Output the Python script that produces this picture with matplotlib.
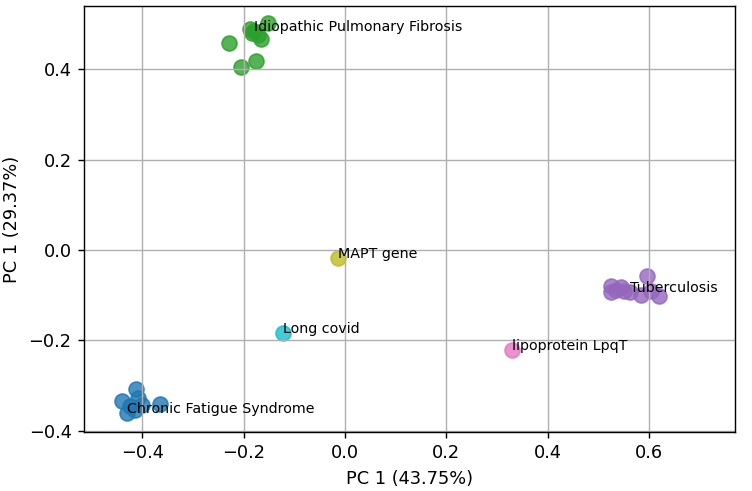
import matplotlib
matplotlib.use("Agg")
import matplotlib.pyplot as plt
import numpy as np

# PCA coordinates per cluster (first point of each cluster carries the label)
labels = ["Chronic Fatigue Syndrome", "Idiopathic Pulmonary Fibrosis", "Tuberculosis",
          "lipoprotein LpqT", "MAPT gene", "Long covid"]
colors = ["tab:blue", "tab:green", "tab:purple", "tab:pink", "tab:olive", "tab:cyan"]

cfs_x = [-0.430, -0.440, -0.412, -0.408, -0.424, -0.400, -0.365, -0.415]
cfs_y = [-0.360, -0.334, -0.308, -0.328, -0.346, -0.343, -0.340, -0.354]

ipf_x = [-0.180, -0.228, -0.205, -0.176, -0.152, -0.188, -0.165, -0.172, -0.183]
ipf_y = [0.485, 0.457, 0.405, 0.418, 0.503, 0.488, 0.468, 0.475, 0.480]

tb_x = [0.563, 0.525, 0.525, 0.545, 0.550, 0.585, 0.597, 0.605, 0.620, 0.535]
tb_y = [-0.093, -0.080, -0.092, -0.082, -0.090, -0.100, -0.058, -0.090, -0.102, -0.088]

lpq_x = [0.330]
lpq_y = [-0.221]

mapt_x = [-0.014]
mapt_y = [-0.018]

covid_x = [-0.122]
covid_y = [-0.184]

xs = [cfs_x, ipf_x, tb_x, lpq_x, mapt_x, covid_x]
ys = [cfs_y, ipf_y, tb_y, lpq_y, mapt_y, covid_y]

fig = plt.figure(figsize=(752/128, 491/128), dpi=128)
fig.subplots_adjust(left=84/752, right=735/752, top=1-6/491, bottom=1-432/491)
ax = fig.gca()

for x, y, c, lab in zip(xs, ys, colors, labels):
    ax.scatter(x, y, s=70, color=c, alpha=0.8)
    ax.text(x[0], y[0], lab, fontsize=8)

ax.set_xlim(-0.515, 0.77)
ax.set_ylim(-0.403, 0.54)
ax.grid(True)
ax.set_xlabel("PC 1 (43.75%)")
ax.set_ylabel("PC 1 (29.37%)")

fig.savefig("out.png", dpi=128)
